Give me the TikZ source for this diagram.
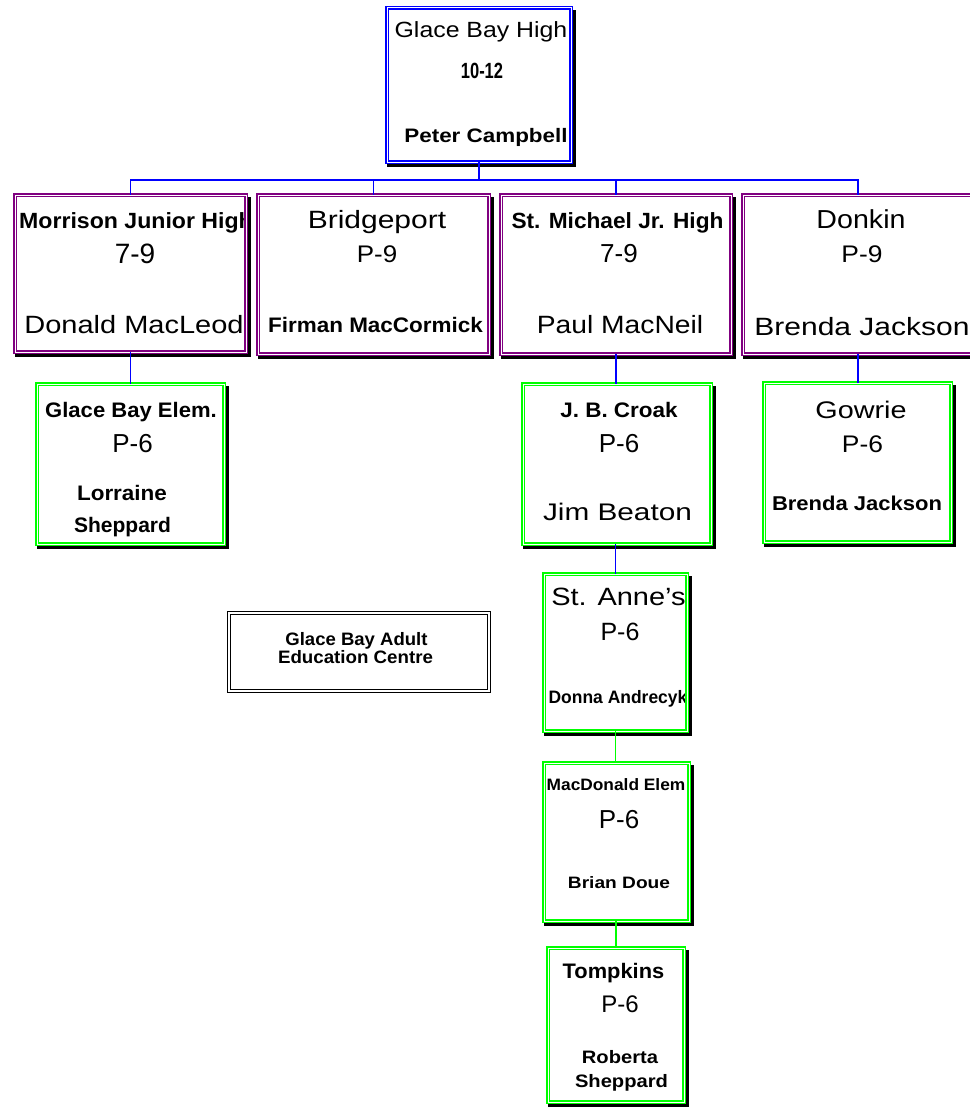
\documentclass[tikz,border=0pt]{standalone}
\usepackage{fontspec}
\setmainfont{Liberation Sans}
\usepackage{graphicx}
\definecolor{bpurple}{RGB}{128,0,128}
\definecolor{bgreen}{RGB}{0,255,0}
\definecolor{bblue}{RGB}{0,0,255}
\tikzset{
  boxframe/.style={rectangle, draw=#1, double=white, line width=1.6pt, double distance=1.0pt, fill=white, inner sep=0pt, outer sep=0pt},
  shadowfill/.style={fill=black},
  conn/.style={draw=bblue, line width=1.2pt},
  conng/.style={draw=bgreen, line width=1.5pt},
  lbl/.style={anchor=base, inner sep=0pt, outer sep=0pt},
}
% #1 name, #2 x1, #3 y1, #4 x2, #5 y2, #6 colour, #7 texts
\newcommand\schoolbox[7]{%
  \fill[shadowfill] ({#2+0.5},{#3+3}) rectangle ({#4+3.5},{#5+3.5});
  \node[boxframe=#6, minimum width={#4-#2-2}, minimum height={#5-#3-2}] (#1) at ({(#2+#4)/2},{(#3+#5)/2}) {};
  \begin{scope}
    \clip ([shift={(3,3)}]#1.north west) rectangle ([shift={(-3,-3)}]#1.south east);
    #7
  \end{scope}
}
% #1 name, #2 x, #3 baseline y, #4 size, #5 xscale, #6 text
\newcommand\tx[6]{\node[lbl, font=\fontsize{#4}{#4}\selectfont] (#1) at (#2,#3) {\scalebox{#5}[1]{#6}};}
\begin{document}
\begin{tikzpicture}[x=1pt,y=-1pt]
\useasboundingbox[fill=white] (0,0) rectangle (969,1108);

% top
\schoolbox{top}{386}{7}{572}{163}{bblue}{%
  \tx{topa}{481}{38}{22}{1.13}{Glace Bay High}
  \tx{topb}{482}{78}{22}{0.75}{\bfseries 10-12}
  \tx{topc}{486}{142}{19.5}{1.15}{\bfseries Peter Campbell}
}

% level 2
\schoolbox{mor}{14}{194}{247}{353}{bpurple}{%
  \tx{mora}{136}{228}{22}{1.05}{\bfseries Morrison Junior High}
  \tx{morb}{135}{263}{28}{1.0}{7-9}
  \tx{morc}{134}{333}{25}{1.16}{Donald MacLeod}
}
\schoolbox{bri}{257}{194}{490}{355}{bpurple}{%
  \tx{bria}{377}{228}{25}{1.2}{Bridgeport}
  \tx{brib}{377}{262}{24}{1.08}{P-9}
  \tx{bric}{375.5}{332}{21}{1.07}{\bfseries Firman MacCormick}
}
\schoolbox{stm}{500}{194}{732}{355}{bpurple}{%
  \tx{stma}{617.5}{228}{22}{1.03}{\bfseries St. Michael Jr. High}
  \tx{stmb}{619}{262}{26}{1.0}{7-9}
  \tx{stmc}{620}{333}{25}{1.13}{Paul MacNeil}
}
\schoolbox{don}{742}{194}{974}{355}{bpurple}{%
  \tx{dona}{861}{228}{26}{1.1}{Donkin}
  \tx{donb}{862}{262}{24}{1.1}{P-9}
  \tx{donc}{862}{335}{25}{1.2}{Brenda Jackson}
}

% level 3
\schoolbox{gbe}{36}{383}{225}{545}{bgreen}{%
  \tx{gbea}{131}{417}{21}{1.05}{\bfseries Glace Bay Elem.}
  \tx{gbeb}{132.5}{452}{26}{1.0}{P-6}
  \tx{gbec}{122}{500}{21}{1.07}{\bfseries Lorraine}
  \tx{gbed}{122.5}{532}{21}{1.0}{\bfseries Sheppard}
}
\schoolbox{jbc}{522}{383}{712}{545}{bgreen}{%
  \tx{jbca}{619}{417}{21}{1.07}{\bfseries J. B. Croak}
  \tx{jbcb}{619}{452}{26}{1.0}{P-6}
  \tx{jbcc}{617.5}{520}{24}{1.24}{Jim Beaton}
}
\schoolbox{gow}{763}{382}{952}{543}{bgreen}{%
  \tx{gowa}{861}{418}{24}{1.2}{Gowrie}
  \tx{gowb}{862.5}{452}{24}{1.1}{P-6}
  \tx{gowc}{857}{510}{20}{1.1}{\bfseries Brenda Jackson}
}

% chain under J. B. Croak
\schoolbox{sta}{543}{573}{688}{732}{bgreen}{%
  \tx{staa}{618.5}{605}{25}{1.16}{St. Anne's}
  \tx{stab}{620}{640}{25}{1.0}{P-6}
  \tx{stac}{618}{703}{18}{0.97}{\bfseries Donna Andrecyk}
}
\schoolbox{mac}{543}{762}{690}{922}{bgreen}{%
  \tx{maca}{616}{790}{16.5}{1.05}{\bfseries MacDonald Elem}
  \tx{macb}{619}{828}{26}{1.0}{P-6}
  \tx{macc}{619}{888}{16.5}{1.16}{\bfseries Brian Doue}
}
\schoolbox{tom}{547}{947}{685}{1103}{bgreen}{%
  \tx{toma}{613.5}{978}{21}{1.04}{\bfseries Tompkins}
  \tx{tomb}{620}{1012}{24}{1.0}{P-6}
  \tx{tomc}{620}{1063}{18}{1.12}{\bfseries Roberta}
  \tx{tomd}{621.5}{1087}{18}{1.12}{\bfseries Sheppard}
}

% adult education
\node[rectangle, draw=black, double=white, line width=1pt, double distance=1.6pt, fill=white,
      minimum width=260, minimum height=78, inner sep=0pt] (adu) at (359,652) {};
\tx{adua}{356.5}{645}{18}{1.03}{\bfseries Glace Bay Adult}
\tx{adub}{355.5}{663}{18}{1.04}{\bfseries Education Centre}

% connectors
\draw[conn] (top.south) -- ++(0,18) -| (mor.north);
\draw[conn] (top.south) -- ++(0,18) -| (bri.north);
\draw[conn] (top.south) -- ++(0,18) -| (stm.north);
\draw[conn] (top.south) -- ++(0,18) -| (don.north);
\draw[conn] (mor.south) -- (mor.south |- gbe.north);
\draw[conn] (stm.south) -- (stm.south |- jbc.north);
\draw[conn] (don.south) -- (don.south |- gow.north);
\draw[conn] (sta.north) -- (sta.north |- jbc.south);
\draw[conng] (sta.south) -- (sta.south |- mac.north);
\draw[conng] (tom.north) -- (tom.north |- mac.south);
\end{tikzpicture}
\end{document}
